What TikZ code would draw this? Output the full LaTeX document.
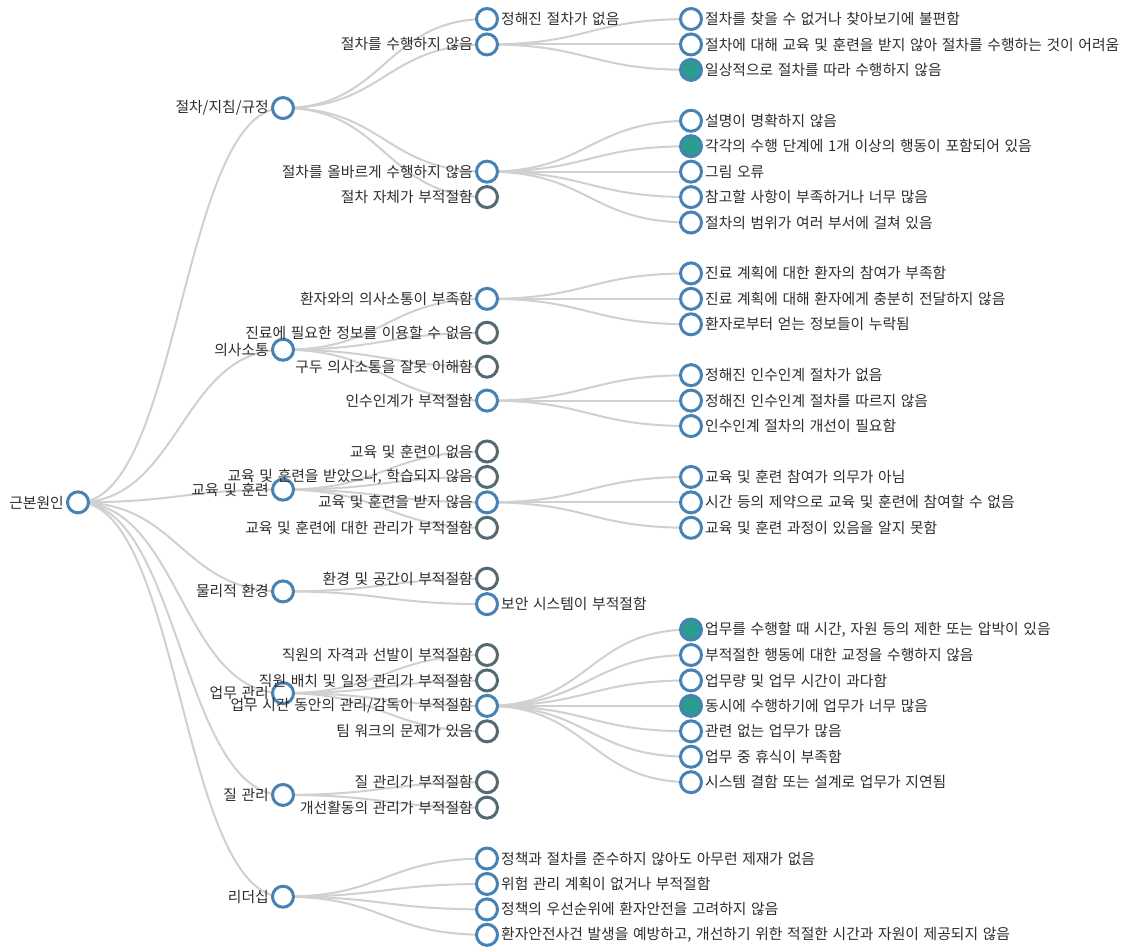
\documentclass[tikz,border=0pt]{standalone}
\usepackage{fontspec}
\newfontfamily\krfont[WordSpace=1.4]{Noto Sans CJK KR}
\usetikzlibrary{backgrounds}
\definecolor{steel}{RGB}{70,130,180}
\definecolor{slate}{RGB}{84,106,114}
\definecolor{tealfill}{RGB}{42,157,143}
\definecolor{linkgray}{RGB}{208,208,208}
\definecolor{labelgray}{RGB}{45,45,45}
\tikzset{
  dot/.style={circle,minimum size=21pt,inner sep=0pt,line width=3pt,fill=white},
  nodeblue/.style={dot,draw=steel},
  nodegray/.style={dot,draw=slate},
  nodeteal/.style={dot,draw=steel,fill=tealfill},
  lbl/.style={font=\krfont\fontsize{14.8}{17}\selectfont,text=labelgray,inner sep=1pt},
  txtl/.style={label={[lbl]left:{#1}}},
  txtr/.style={label={[lbl]right:{#1}}},
  link/.style={draw=linkgray,line width=2pt}
}
\begin{document}
\begin{tikzpicture}[x=1pt,y=-25.44pt,label distance=1pt]
\useasboundingbox (0,-0.747) rectangle (1126,36.517);
% root and main causes
\node[nodeblue,txtl={근본원인}] (root) at (78,19) {};
\node[nodeblue,txtl={절차/지침/규정}] (proc) at (283,3.5) {};
\node[nodeblue,txtl={의사소통}] (comm) at (283,13) {};
\node[nodeblue,txtl={교육 및 훈련}] (edu) at (283,18.5) {};
\node[nodeblue,txtl={물리적 환경}] (env) at (283,22.5) {};
\node[nodeblue,txtl={업무 관리}] (work) at (283,26.5) {};
\node[nodeblue,txtl={질 관리}] (qual) at (283,30.5) {};
\node[nodeblue,txtl={리더십}] (lead) at (283,34.5) {};
% second level
\node[nodeblue,txtr={정해진 절차가 없음}] (proc1) at (487,0) {};
\node[nodeblue,txtl={절차를 수행하지 않음}] (proc2) at (487,1) {};
\node[nodeblue,txtl={절차를 올바르게 수행하지 않음}] (proc3) at (487,6) {};
\node[nodegray,txtl={절차 자체가 부적절함}] (proc4) at (487,7) {};
\node[nodeblue,txtl={환자와의 의사소통이 부족함}] (comm1) at (487,11) {};
\node[nodegray,txtl={진료에 필요한 정보를 이용할 수 없음}] (comm2) at (487,12.333) {};
\node[nodegray,txtl={구두 의사소통을 잘못 이해함}] (comm3) at (487,13.667) {};
\node[nodeblue,txtl={인수인계가 부적절함}] (comm4) at (487,15) {};
\node[nodegray,txtl={교육 및 훈련이 없음}] (edu1) at (487,17) {};
\node[nodegray,txtl={교육 및 훈련을 받았으나, 학습되지 않음}] (edu2) at (487,18) {};
\node[nodeblue,txtl={교육 및 훈련을 받지 않음}] (edu3) at (487,19) {};
\node[nodegray,txtl={교육 및 훈련에 대한 관리가 부적절함}] (edu4) at (487,20) {};
\node[nodegray,txtl={환경 및 공간이 부적절함}] (env1) at (487,22) {};
\node[nodeblue,txtr={보안 시스템이 부적절함}] (env2) at (487,23) {};
\node[nodegray,txtl={직원의 자격과 선발이 부적절함}] (work1) at (487,25) {};
\node[nodegray,txtl={직원 배치 및 일정 관리가 부적절함}] (work2) at (487,26) {};
\node[nodeblue,txtl={업무 시간 동안의 관리/감독이 부적절함}] (work3) at (487,27) {};
\node[nodegray,txtl={팀 워크의 문제가 있음}] (work4) at (487,28) {};
\node[nodegray,txtl={질 관리가 부적절함}] (qual1) at (487,30) {};
\node[nodegray,txtl={개선활동의 관리가 부적절함}] (qual2) at (487,31) {};
\node[nodeblue,txtr={정책과 절차를 준수하지 않아도 아무런 제재가 없음}] (lead1) at (487,33) {};
\node[nodeblue,txtr={위험 관리 계획이 없거나 부적절함}] (lead2) at (487,34) {};
\node[nodeblue,txtr={정책의 우선순위에 환자안전을 고려하지 않음}] (lead3) at (487,35) {};
\node[nodeblue,txtr={환자안전사건 발생을 예방하고, 개선하기 위한 적절한 시간과 자원이 제공되지 않음}] (lead4) at (487,36) {};
% third level
\node[nodeblue,txtr={절차를 찾을 수 없거나 찾아보기에 불편함}] (proc2a) at (691,0) {};
\node[nodeblue,txtr={절차에 대해 교육 및 훈련을 받지 않아 절차를 수행하는 것이 어려움}] (proc2b) at (691,1) {};
\node[nodeteal,txtr={일상적으로 절차를 따라 수행하지 않음}] (proc2c) at (691,2) {};
\node[nodeblue,txtr={설명이 명확하지 않음}] (proc3a) at (691,4) {};
\node[nodeteal,txtr={각각의 수행 단계에 1개 이상의 행동이 포함되어 있음}] (proc3b) at (691,5) {};
\node[nodeblue,txtr={그림 오류}] (proc3c) at (691,6) {};
\node[nodeblue,txtr={참고할 사항이 부족하거나 너무 많음}] (proc3d) at (691,7) {};
\node[nodeblue,txtr={절차의 범위가 여러 부서에 걸쳐 있음}] (proc3e) at (691,8) {};
\node[nodeblue,txtr={진료 계획에 대한 환자의 참여가 부족함}] (comm1a) at (691,10) {};
\node[nodeblue,txtr={진료 계획에 대해 환자에게 충분히 전달하지 않음}] (comm1b) at (691,11) {};
\node[nodeblue,txtr={환자로부터 얻는 정보들이 누락됨}] (comm1c) at (691,12) {};
\node[nodeblue,txtr={정해진 인수인계 절차가 없음}] (comm4a) at (691,14) {};
\node[nodeblue,txtr={정해진 인수인계 절차를 따르지 않음}] (comm4b) at (691,15) {};
\node[nodeblue,txtr={인수인계 절차의 개선이 필요함}] (comm4c) at (691,16) {};
\node[nodeblue,txtr={교육 및 훈련 참여가 의무가 아님}] (edu3a) at (691,18) {};
\node[nodeblue,txtr={시간 등의 제약으로 교육 및 훈련에 참여할 수 없음}] (edu3b) at (691,19) {};
\node[nodeblue,txtr={교육 및 훈련 과정이 있음을 알지 못함}] (edu3c) at (691,20) {};
\node[nodeteal,txtr={업무를 수행할 때 시간, 자원 등의 제한 또는 압박이 있음}] (work3a) at (691,24) {};
\node[nodeblue,txtr={부적절한 행동에 대한 교정을 수행하지 않음}] (work3b) at (691,25) {};
\node[nodeblue,txtr={업무량 및 업무 시간이 과다함}] (work3c) at (691,26) {};
\node[nodeteal,txtr={동시에 수행하기에 업무가 너무 많음}] (work3d) at (691,27) {};
\node[nodeblue,txtr={관련 없는 업무가 많음}] (work3e) at (691,28) {};
\node[nodeblue,txtr={업무 중 휴식이 부족함}] (work3f) at (691,29) {};
\node[nodeblue,txtr={시스템 결함 또는 설계로 업무가 지연됨}] (work3g) at (691,30) {};
% links behind the nodes
\begin{scope}[on background layer]
\foreach \a/\b in {root/proc,root/comm,root/edu,root/env,root/work,root/qual,root/lead,
  proc/proc1,proc/proc2,proc/proc3,proc/proc4,
  comm/comm1,comm/comm2,comm/comm3,comm/comm4,
  edu/edu1,edu/edu2,edu/edu3,edu/edu4,
  env/env1,env/env2,
  work/work1,work/work2,work/work3,work/work4,
  qual/qual1,qual/qual2,
  lead/lead1,lead/lead2,lead/lead3,lead/lead4,
  proc2/proc2a,proc2/proc2b,proc2/proc2c,
  proc3/proc3a,proc3/proc3b,proc3/proc3c,proc3/proc3d,proc3/proc3e,
  comm1/comm1a,comm1/comm1b,comm1/comm1c,
  comm4/comm4a,comm4/comm4b,comm4/comm4c,
  edu3/edu3a,edu3/edu3b,edu3/edu3c,
  work3/work3a,work3/work3b,work3/work3c,work3/work3d,work3/work3e,work3/work3f,work3/work3g}
  \draw[link] (\a.center) .. controls ([xshift=102pt]\a.center) and ([xshift=-102pt]\b.center) .. (\b.center);
\end{scope}
\end{tikzpicture}
\end{document}
